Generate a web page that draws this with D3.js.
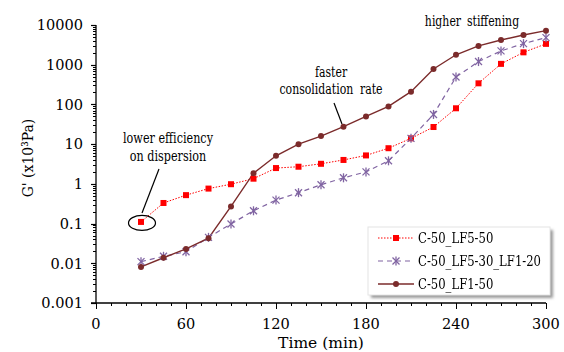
<!DOCTYPE html>
<html><head><meta charset="utf-8">
<script src="https://cdn.jsdelivr.net/npm/d3@7"></script>
<style>
body{margin:0;background:#fff}
#wrap{position:relative;width:564px;height:352px;font-family:'DejaVu Serif';}
#wrap svg{position:absolute;left:0;top:0;display:block}
.t{position:absolute;white-space:nowrap;line-height:1;color:#000;font-family:'DejaVu Serif'}
</style>
</head><body><div id="wrap"><svg id="c" width="564" height="352"></svg></div>
<script>
const times = [30,45,60,75,90,105,120,135,150,165,180,195,210,225,240,255,270,285,300];
const lf5_50 = [0.11,0.33,0.52,0.76,0.98,1.35,2.5,2.7,3.2,4.0,5.2,7.9,14,27,80,340,1050,2050,3350];
const lf5_30_lf1_20 = [0.011,0.015,0.0195,0.045,0.098,0.21,0.39,0.6,0.95,1.42,2.0,3.8,14,56,490,1200,2230,3400,4800];
const lf1_50 = [0.0081,0.0138,0.023,0.043,0.27,1.86,5.1,10,16,27.5,50,89,210,780,1780,2970,4200,5600,7200];
const seriesNames = ["C-50_LF5-50","C-50_LF5-30_LF1-20","C-50_LF1-50"];
const xTicks = [0,60,120,180,240,300];
const yTicks = [0.001,0.01,0.1,1,10,100,1000,10000];
const yTickLabels = ["0.001","0.01","0.1","1","10","100","1000","10000"];

const wrap = d3.select("#wrap");
const svg = d3.select("#c");
const L=96, R=546, T=25, B=303;
const x = d3.scaleLinear().domain([0,300]).range([L,R]);
const y = d3.scaleLog().domain([0.001,10000]).range([B,T]);

function txt(str, bx, by, fs, anchor, sx, ws){
  const tx = anchor==="middle"?"-50%":anchor==="end"?"-100%":"0";
  const org = anchor==="middle"?"50% 50%":anchor==="end"?"100% 50%":"0 50%";
  const d = wrap.append("div").attr("class","t")
    .style("left",bx+"px").style("top",(by-0.846*fs)+"px")
    .style("font-size",fs+"px").style("transform-origin",org)
    .style("transform","translateX("+tx+") scaleX("+sx+")").text(str);
  if(ws) d.style("word-spacing",ws+"px");
  return d;
}

const g = svg.append("g");
const xMinor = d3.range(0,301,10);
g.selectAll(".xm").data(xMinor).enter().append("line")
  .attr("x1",d=>Math.round(x(d))+0.5).attr("x2",d=>Math.round(x(d))+0.5).attr("y1",B)
  .attr("y2",d=>xTicks.includes(d)?B+6:B+3).attr("stroke","#000").attr("stroke-width",1);
const yMinor=[];
for(let e=-3;e<4;e++){for(let k=2;k<=9;k++) yMinor.push(k*Math.pow(10,e));}
g.selectAll(".ym").data(yMinor).enter().append("line")
  .attr("x1",L-3).attr("x2",L).attr("y1",d=>Math.round(y(d))+0.5).attr("y2",d=>Math.round(y(d))+0.5)
  .attr("stroke","#000").attr("stroke-width",1);
g.selectAll(".yM").data(yTicks).enter().append("line")
  .attr("x1",L-5).attr("x2",L).attr("y1",d=>Math.round(y(d))+0.5).attr("y2",d=>Math.round(y(d))+0.5)
  .attr("stroke","#000").attr("stroke-width",1.2);
g.append("line").attr("x1",L).attr("x2",L).attr("y1",T).attr("y2",B).attr("stroke","#000").attr("stroke-width",1.3);
g.append("line").attr("x1",L-5).attr("x2",R).attr("y1",B).attr("y2",B).attr("stroke","#000").attr("stroke-width",1.3);

xTicks.forEach(d=>txt(String(d), x(d), B+27, 15, "middle", 0.97));
yTicks.forEach((d,i)=>txt(yTickLabels[i], L-13, y(d)+6, 15, "end", 0.97));
txt("Time (min)", 321, 349, 15.5, "middle", 1.0);
wrap.append("div").attr("class","t").style("left","29px").style("top","158px").style("font-size","15.5px")
  .style("transform","translate(-50%,-50%) rotate(-90deg) scaleX(0.9)").text("G' (x10³Pa)");

const line = d3.line().x(d=>x(d[0])).y(d=>y(d[1]));
const red="#ff0000", purple="#8064a2", brown="#7b2b2b";
const pRed = times.map((t,i)=>[t,lf5_50[i]]);
const pPur = times.map((t,i)=>[t,lf5_30_lf1_20[i]]);
const pBro = times.map((t,i)=>[t,lf1_50[i]]);
svg.append("path").attr("d",line(pRed)).attr("fill","none").attr("stroke",red).attr("stroke-width",1).attr("stroke-dasharray","1.5,1.5");
svg.append("path").attr("d",line(pPur)).attr("fill","none").attr("stroke",purple).attr("stroke-width",1.2).attr("stroke-dasharray","5,4");
svg.append("path").attr("d",line(pBro)).attr("fill","none").attr("stroke",brown).attr("stroke-width",1.4);

function star(sel,cx,cy,s,col){
  const gg=sel.append("g").attr("stroke",col).attr("stroke-width",1.3);
  gg.append("line").attr("x1",cx-s).attr("x2",cx+s).attr("y1",cy-s).attr("y2",cy+s);
  gg.append("line").attr("x1",cx-s).attr("x2",cx+s).attr("y1",cy+s).attr("y2",cy-s);
  gg.append("line").attr("x1",cx).attr("x2",cx).attr("y1",cy-s-1).attr("y2",cy+s+1);
}
svg.selectAll(".sq").data(pRed).enter().append("rect")
  .attr("x",d=>x(d[0])-3).attr("y",d=>y(d[1])-3).attr("width",6).attr("height",6).attr("fill",red);
pPur.forEach(d=>star(svg,x(d[0]),y(d[1]),3.5,purple));
svg.selectAll(".ci").data(pBro).enter().append("circle")
  .attr("cx",d=>x(d[0])).attr("cy",d=>y(d[1])).attr("r",3).attr("fill",brown);

// annotations
txt("higher stiffening", 472, 26, 14, "middle", 0.78, 3);
txt("faster", 331, 77, 14, "middle", 0.78);
txt("consolidation rate", 331, 94, 14, "middle", 0.78, 4);
svg.append("line").attr("x1",334).attr("y1",103).attr("x2",342).attr("y2",124).attr("stroke","#000").attr("stroke-width",1.2);
txt("lower efficiency", 168, 143, 14, "middle", 0.8);
txt("on dispersion", 168, 161, 14, "middle", 0.8);
svg.append("line").attr("x1",159).attr("y1",169).attr("x2",142).attr("y2",213).attr("stroke","#000").attr("stroke-width",1.2);
svg.append("ellipse").attr("cx",x(30)+1).attr("cy",y(lf5_50[0])+1).attr("rx",13.5).attr("ry",7.5)
  .attr("fill","none").attr("stroke","#000").attr("stroke-width",1.2);

// legend
const defs=svg.append("defs");
const f=defs.append("filter").attr("id","sh").attr("x","-10%").attr("y","-10%").attr("width","130%").attr("height","140%");
f.append("feGaussianBlur").attr("stdDeviation",1.5);
const lg=svg.append("g");
lg.append("rect").attr("x",371).attr("y",230).attr("width",182).attr("height",68).attr("fill","#999").attr("filter","url(#sh)");
lg.append("rect").attr("x",368).attr("y",227).attr("width",182).attr("height",68).attr("fill","#fff").attr("stroke","#e4e4e4");
const ly=[238,261,284];
lg.append("line").attr("x1",378).attr("x2",414).attr("y1",ly[0]).attr("y2",ly[0]).attr("stroke",red).attr("stroke-dasharray","1.5,1.5");
lg.append("rect").attr("x",393).attr("y",ly[0]-3).attr("width",6).attr("height",6).attr("fill",red);
lg.append("line").attr("x1",378).attr("x2",414).attr("y1",ly[1]).attr("y2",ly[1]).attr("stroke",purple).attr("stroke-width",1.2).attr("stroke-dasharray","5,4");
star(lg,396,ly[1],3.5,purple);
lg.append("line").attr("x1",378).attr("x2",414).attr("y1",ly[2]).attr("y2",ly[2]).attr("stroke",brown).attr("stroke-width",1.4);
lg.append("circle").attr("cx",396).attr("cy",ly[2]).attr("r",3).attr("fill",brown);
seriesNames.forEach((n,i)=>txt(n, 418, ly[i]+5, 14, "start", 0.83));
</script></body></html>
